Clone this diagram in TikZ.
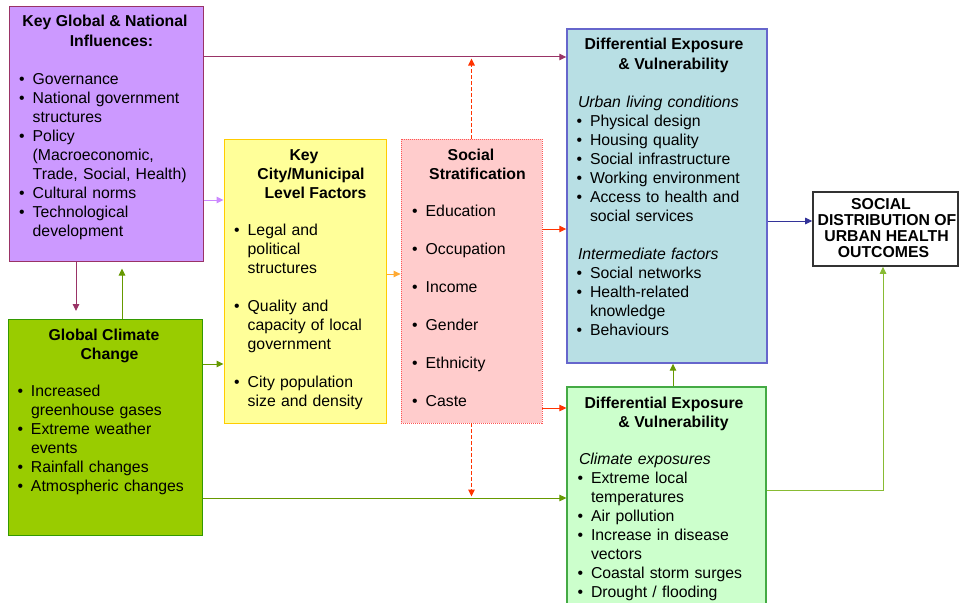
\documentclass[tikz,border=0pt]{standalone}
\usepackage{fontspec}
\setmainfont{Liberation Sans}
\usetikzlibrary{arrows.meta}
\setlength\parindent{0pt}
\newcommand{\bl}[1]{\par\hangindent=13.5pt\hangafter=1\noindent\rule{0pt}{12pt}\makebox[13.5pt][l]{•}#1}
\newcommand{\hd}[1]{\par\noindent\rule{0pt}{12pt}\hspace*{1.5pt}\textit{#1}}
\newcommand{\blank}{\par\noindent\mbox{}}
\newcommand{\nl}{\newline}
\definecolor{purfill}{HTML}{CC99FF}
\definecolor{maroon}{HTML}{993366}
\definecolor{gccfill}{HTML}{99CC00}
\definecolor{gccdraw}{HTML}{339900}
\definecolor{yelfill}{HTML}{FFFF99}
\definecolor{yeldraw}{HTML}{FFCC00}
\definecolor{pinkfill}{HTML}{FFCCCC}
\definecolor{pinkdraw}{HTML}{FF5555}
\definecolor{bluefill}{HTML}{B8DFE4}
\definecolor{bluedraw}{HTML}{6666CC}
\definecolor{lgfill}{HTML}{CCFFCC}
\definecolor{lgdraw}{HTML}{44AA44}
\definecolor{outdraw}{HTML}{333333}
\definecolor{arrgreen}{HTML}{669900}
\definecolor{arrlgreen}{HTML}{88BB33}
\definecolor{arrpurple}{HTML}{CC88FF}
\definecolor{arrorange}{HTML}{FFAA33}
\definecolor{arrred}{HTML}{FF3300}
\definecolor{arrblue}{HTML}{333399}
\begin{document}
\begin{tikzpicture}[x=1pt,y=-1pt,
  box/.style={inner sep=0pt, line width=1pt, minimum width=#1},
  arr/.style={-{Triangle[length=7pt,width=6.5pt]}, line width=1pt},
  dsh/.style={draw=arrred, dash pattern=on 3.5pt off 2.5pt, line width=1.3pt},
  ttl/.style={anchor=base, inner sep=0pt, font=\fontsize{15.8}{19.05}\selectfont\bfseries},
  otl/.style={anchor=base, inner sep=0pt, font=\fontsize{15.8}{16}\selectfont\bfseries},
  txt/.style={anchor=north west, inner sep=0pt, text width=#1, align=left, font=\fontsize{15.8}{19.05}\selectfont}
]
\useasboundingbox (0,0) rectangle (960,602);

% boxes
\node[box=194pt, minimum height=254pt, fill=purfill, draw=maroon] (pur) at (106,134) {};
\node[box=194pt, minimum height=216pt, fill=gccfill, draw=gccdraw] (gcc) at (105,427) {};
\node[box=162pt, minimum height=284pt, fill=yelfill, draw=yeldraw] (yel) at (305,281) {};
\node[box=141pt, minimum height=284pt, fill=pinkfill, draw=pinkdraw, line width=0.8pt, dash pattern=on 1pt off 1pt] (pink) at (471.5,281) {};
\node[box=200pt, minimum height=334pt, fill=bluefill, draw=bluedraw, line width=1.4pt] (blue) at (667,196) {};
\node[box=199pt, minimum height=228pt, fill=lgfill, draw=lgdraw, line width=1.2pt] (lg) at (666.5,501) {};
\node[box=145pt, minimum height=74pt, fill=white, draw=outdraw, line width=1.6pt] (out) at (885.5,229) {};

% titles
\node[ttl] (t1a) at (105,27) {Key Global \& National};
\node[ttl] (t1b) at (111.5,46) {Influences:};
\node[ttl] (t2a) at (104,340) {Global Climate};
\node[ttl] (t2b) at (109.5,359) {Change};
\node[ttl] (t3a) at (304,160) {Key};
\node[ttl] (t3b) at (311,179) {City/Municipal};
\node[ttl] (t3c) at (315.5,198) {Level Factors};
\node[ttl] (t4a) at (471,160) {Social};
\node[ttl] (t4b) at (477.5,179) {Stratification};
\node[ttl] (t5a) at (664,50) {Differential Exposure};
\node[ttl] (t5b) at (673.5,69) {\& Vulnerability};
\node[ttl] (t6a) at (664,408) {Differential Exposure};
\node[ttl] (t6b) at (673.5,427) {\& Vulnerability};
\node[otl] (t7a) at (881,209.5) {SOCIAL};
\node[otl] (t7b) at (887,225.5) {DISTRIBUTION OF};
\node[otl] (t7c) at (886.5,241.5) {URBAN HEALTH};
\node[otl] (t7d) at (883.5,257.5) {OUTCOMES};

% lists
\node[txt=185pt] (l1) at (19,65) {\bl{Governance}\bl{National government\nl structures}\bl{Policy\nl (Macroeconomic,\nl Trade, Social, Health)}\bl{Cultural norms}\bl{Technological\nl development}\par};
\node[txt=185pt] (l2) at (17.3,377) {\bl{Increased\nl greenhouse gases}\bl{Extreme weather\nl events}\bl{Rainfall changes}\bl{Atmospheric changes}\par};
\node[txt=155pt] (l3) at (234,216) {\bl{Legal and\nl political\nl structures}\blank\bl{Quality and\nl capacity of local\nl government}\blank\bl{City population\nl size and density}\par};
\node[txt=130pt] (l4) at (412,197) {\bl{Education}\blank\bl{Occupation}\blank\bl{Income}\blank\bl{Gender}\blank\bl{Ethnicity}\blank\bl{Caste}\par};
\node[txt=190pt] (l5) at (576.3,88) {\hd{Urban living conditions}\bl{Physical design}\bl{Housing quality}\bl{Social infrastructure}\bl{Working environment}\bl{Access to health and\nl social services}\blank\hd{Intermediate factors}\bl{Social networks}\bl{Health-related\nl knowledge}\bl{Behaviours}\par};
\node[txt=190pt] (l6) at (577.3,445) {\hd{Climate exposures}\bl{Extreme local\nl temperatures}\bl{Air pollution}\bl{Increase in disease\nl vectors}\bl{Coastal storm surges}\bl{Drought / flooding}\par};

% connectors
\coordinate (dtop) at (471.5,58.5);
\coordinate (dbot) at (471.5,496.5);
\draw[arr, maroon] (pur.east |- 0,57) -- (blue.west |- 0,57);
\draw[arr, arrred, dsh] (pink.north) -- (dtop);
\draw[arr, arrpurple] (pur.east |- 0,200) -- (yel.west |- 0,200);
\draw[arr, maroon, shorten >=7.5pt] (pur.south -| 76,0) -- (gcc.north -| 76,0);
\draw[arr, arrgreen, shorten >=7pt] (gcc.north -| 122,0) -- (pur.south -| 122,0);
\draw[arr, arrgreen] (gcc.east |- 0,364) -- (yel.west |- 0,364);
\draw[arr, arrorange] (yel.east |- 0,274) -- (pink.west |- 0,274);
\draw[arr, arrred] (pink.east |- 0,229) -- (blue.west |- 0,229);
\draw[arr, arrred] (pink.east |- 0,408) -- (lg.west |- 0,408);
\draw[arr, arrred, dsh] (pink.south) -- (dbot);
\draw[arr, arrgreen] (gcc.east |- 0,498) -- (lg.west |- 0,498);
\draw[arr, arrblue] (blue.east |- 0,221) -- (out.west |- 0,221);
\draw[arr, arrgreen] (lg.north -| 673,0) -- (blue.south -| 673,0);
\draw[arr, arrlgreen] (lg.east |- 0,490) -| (out.south -| 883,0);
\end{tikzpicture}
\end{document}
